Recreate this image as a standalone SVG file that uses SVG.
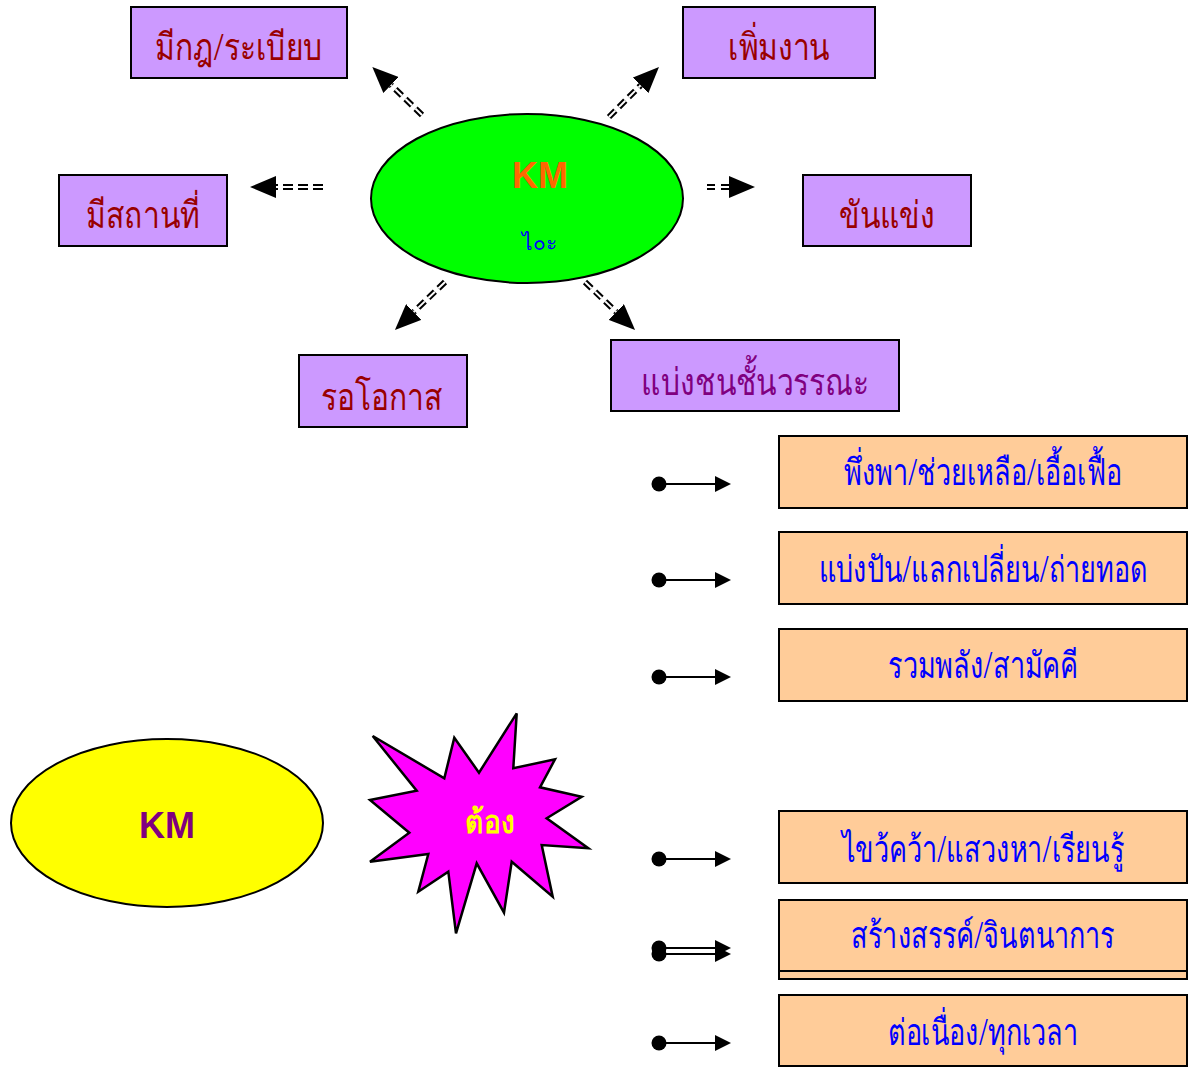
<svg xmlns="http://www.w3.org/2000/svg" width="1200" height="1067" viewBox="0 0 1200 1067">
<defs>
<style>
.pbox{fill:#CC99FF;stroke:#000;stroke-width:2}
.obox{fill:#FFCC99;stroke:#000;stroke-width:2}
.ptxt{font-family:"Noto Sans",sans-serif;font-size:30px;font-weight:300;fill:#990000;text-anchor:middle}
.otxt{font-family:"Noto Sans",sans-serif;font-size:27px;font-weight:300;fill:#0000FF;text-anchor:middle}
.dd{fill:none;stroke:#000;stroke-width:6;stroke-dasharray:9 5}
.ddi{fill:none;stroke:#fff;stroke-width:2;stroke-dasharray:9 5}
.ln{fill:none;stroke:#000;stroke-width:2}
</style>
<marker id="bighead" markerUnits="userSpaceOnUse" markerWidth="26" markerHeight="22" viewBox="0 -11 26 22" refX="0" refY="0" orient="auto">
<path d="M0,-11 L26,0 L0,11 z" fill="#000"/>
</marker>
<marker id="smhead" markerUnits="userSpaceOnUse" markerWidth="16" markerHeight="16" viewBox="0 -8 16 16" refX="0" refY="0" orient="auto">
<path d="M0,-8 L16,0 L0,8 z" fill="#000"/>
</marker>
<marker id="dot" markerUnits="userSpaceOnUse" markerWidth="16" markerHeight="16" viewBox="-8 -8 16 16" refX="0" refY="0" orient="auto">
<circle cx="0" cy="0" r="7.5" fill="#000"/>
</marker>
</defs>
<rect width="1200" height="1067" fill="#fff"/>

<g id="connectors">
<path class="dd" d="M422,115 L391,85" marker-end="url(#bighead)"/>
<path class="ddi" d="M422,115 L391,85"/>
<path class="dd" d="M609,117 L640.6,85.4" marker-end="url(#bighead)"/>
<path class="ddi" d="M609,117 L640.6,85.4"/>
<path class="dd" d="M707,187 L729,187" marker-end="url(#bighead)" style="stroke-dasharray:8 6"/>
<path class="ddi" d="M707,187 L729,187" style="stroke-dasharray:8 6"/>
<path class="dd" d="M323,187 L276,187" marker-end="url(#bighead)" style="stroke-dasharray:10 5"/>
<path class="ddi" d="M323,187 L276,187" style="stroke-dasharray:10 5"/>
<path class="dd" d="M445,282 L413.7,312" marker-end="url(#bighead)"/>
<path class="ddi" d="M445,282 L413.7,312"/>
<path class="dd" d="M585,282 L616.3,312" marker-end="url(#bighead)"/>
<path class="ddi" d="M585,282 L616.3,312"/>

<path class="ln" d="M659,484 L715,484" marker-start="url(#dot)" marker-end="url(#smhead)"/>
<path class="ln" d="M659,580 L715,580" marker-start="url(#dot)" marker-end="url(#smhead)"/>
<path class="ln" d="M659,677 L715,677" marker-start="url(#dot)" marker-end="url(#smhead)"/>
<path class="ln" d="M659,859 L715,859" marker-start="url(#dot)" marker-end="url(#smhead)"/>
<path class="ln" d="M659,948 L715,948" marker-start="url(#dot)" marker-end="url(#smhead)"/>
<path class="ln" d="M659,954 L715,954" marker-start="url(#dot)" marker-end="url(#smhead)"/>
<path class="ln" d="M659,1043 L715,1043" marker-start="url(#dot)" marker-end="url(#smhead)"/>
</g>

<g id="km-green">
<ellipse cx="527" cy="198.5" rx="156" ry="84.5" fill="#00FF00" stroke="#000" stroke-width="2"/>
<text x="540" y="188" font-family="Liberation Sans,sans-serif" font-weight="bold" font-size="36" fill="#FF6600" text-anchor="middle">KM</text>
<text x="539" y="250" font-family="Noto Sans,sans-serif" font-size="21" fill="#0000FF" text-anchor="middle">ไ๐ะ</text>
</g>

<g id="n-rules"><rect class="pbox" x="131" y="7" width="216" height="71"/><text class="ptxt" transform="translate(239,60) scale(1,1.25)">มีกฎ/ระเบียบ</text></g>
<g id="n-work"><rect class="pbox" x="683" y="7" width="192" height="71"/><text class="ptxt" transform="translate(779,60) scale(1,1.25)">เพิ่มงาน</text></g>
<g id="n-place"><rect class="pbox" x="59" y="175" width="168" height="71"/><text class="ptxt" transform="translate(143,228) scale(1,1.25)">มีสถานที่</text></g>
<g id="n-compete"><rect class="pbox" x="803" y="175" width="168" height="71"/><text class="ptxt" transform="translate(887,228) scale(1,1.25)">ขันแข่ง</text></g>
<g id="n-wait"><rect class="pbox" x="299" y="355" width="168" height="72"/><text class="ptxt" transform="translate(382,410) scale(1,1.25)">รอโอกาส</text></g>
<g id="n-class"><rect class="pbox" x="611" y="340" width="288" height="71"/><text class="ptxt" transform="translate(755,395) scale(1,1.25)" style="fill:#800080">แบ่งชนชั้นวรรณะ</text></g>

<g id="o1"><rect class="obox" x="779" y="436" width="408" height="72"/><text class="otxt" transform="translate(983,485) scale(1,1.35)">พึ่งพา/ช่วยเหลือ/เอื้อเฟื้อ</text></g>
<g id="o2"><rect class="obox" x="779" y="532" width="408" height="72"/><text class="otxt" transform="translate(983,582) scale(1,1.35)">แบ่งปัน/แลกเปลี่ยน/ถ่ายทอด</text></g>
<g id="o3"><rect class="obox" x="779" y="629" width="408" height="72"/><text class="otxt" transform="translate(983,678) scale(1,1.35)">รวมพลัง/สามัคคี</text></g>
<g id="o4"><rect class="obox" x="779" y="811" width="408" height="72"/><text class="otxt" transform="translate(983,862) scale(1,1.35)">ไขว้คว้า/แสวงหา/เรียนรู้</text></g>
<g id="o5"><rect class="obox" x="779" y="907" width="408" height="72"/><rect class="obox" x="779" y="900" width="408" height="71"/><text class="otxt" transform="translate(983,948) scale(1,1.35)">สร้างสรรค์/จินตนาการ</text></g>
<g id="o6"><rect class="obox" x="779" y="995" width="408" height="71"/><text class="otxt" transform="translate(983,1045) scale(1,1.35)">ต่อเนื่อง/ทุกเวลา</text></g>

<g id="km-yellow">
<ellipse cx="167" cy="823" rx="156" ry="84" fill="#FFFF00" stroke="#000" stroke-width="2"/>
<text x="167" y="838" font-family="Liberation Sans,sans-serif" font-weight="bold" font-size="36" fill="#800080" text-anchor="middle">KM</text>
</g>

<g id="must">
<polygon points="372.7,736 444.3,778.3 454.3,737.7 479,772.7 516.7,713.3 513.3,768.3 555,759.3 540,787.3 581.7,796.7 546.7,818.3 588.3,848.3 541.7,845 552.7,896.7 511.7,861.7 504,912.7 476.7,863.3 456,933.3 448.3,871.7 418.3,891.7 428.3,854 370,861.7 409.3,832.7 370,800 416.7,790.7" fill="#FF00FF" stroke="#000" stroke-width="2.5" stroke-linejoin="miter"/>
<text transform="translate(490,833) scale(1,1.15)" font-family="Noto Sans,sans-serif" font-weight="bold" font-size="28" fill="#FFFF00" text-anchor="middle">ต้อง</text>
</g>
</svg>
